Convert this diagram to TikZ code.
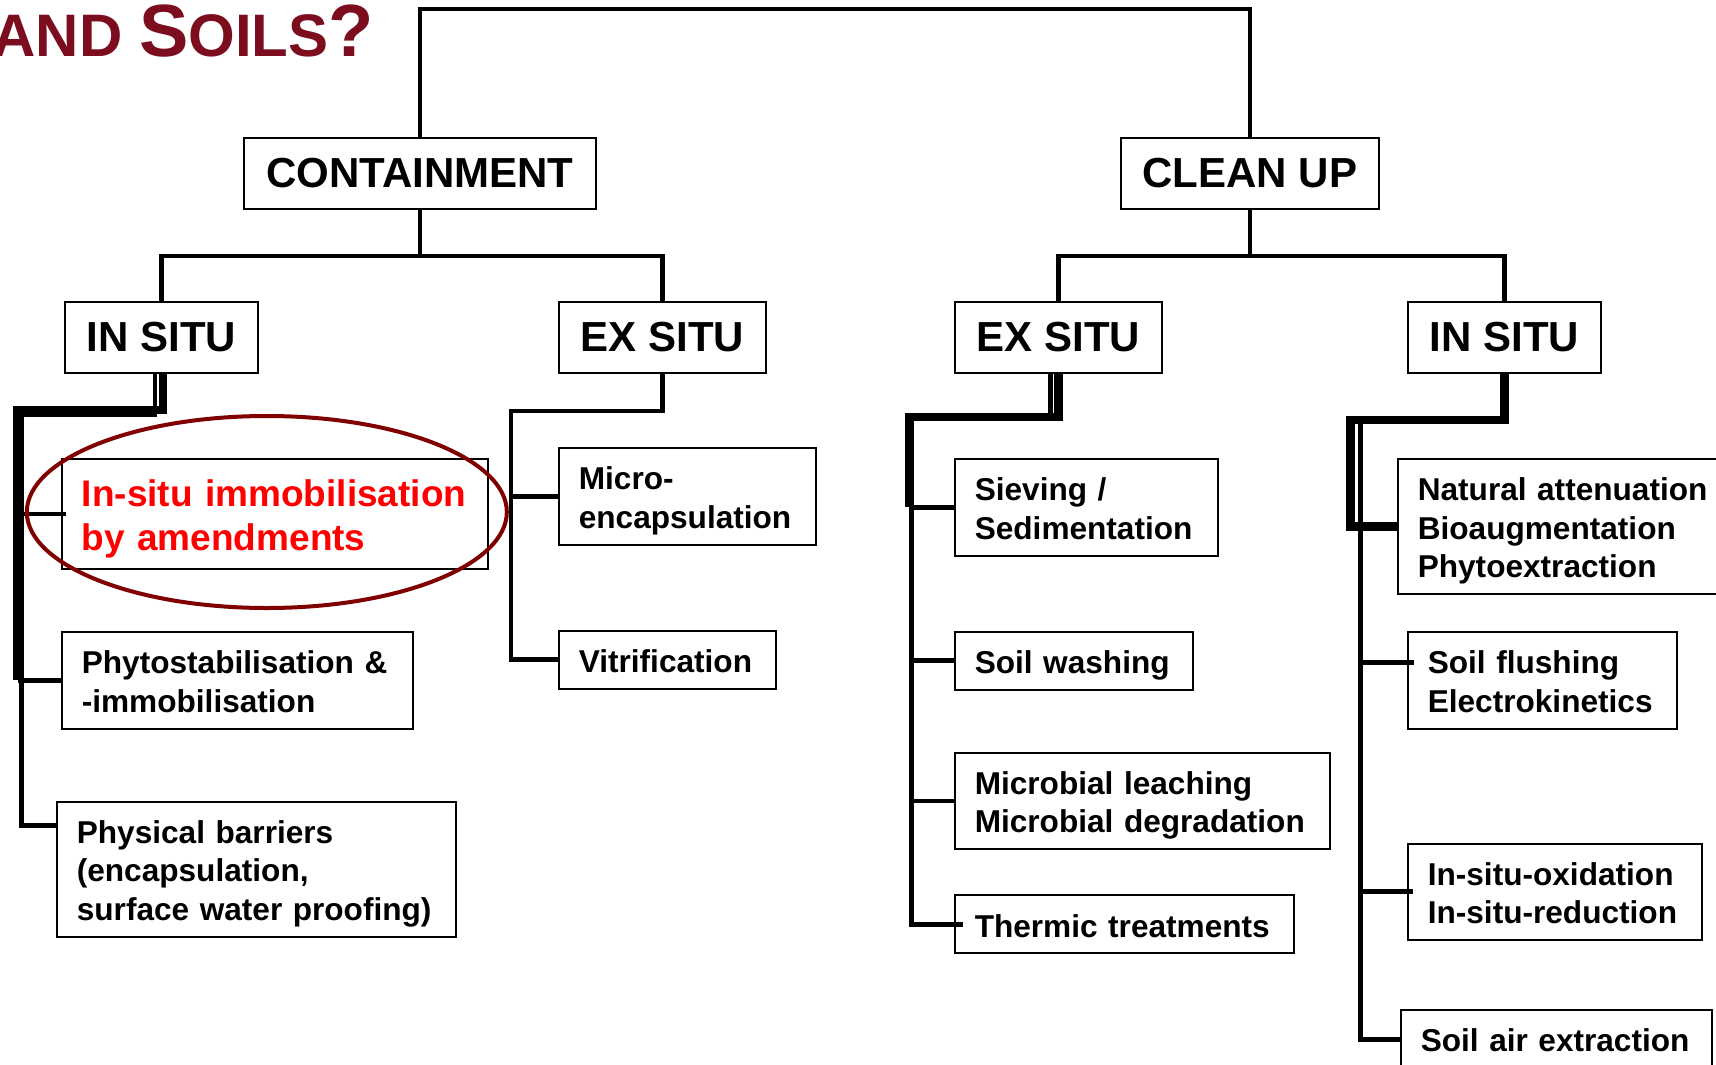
\documentclass[tikz,border=0pt]{standalone}
\usepackage{fontspec}
\setmainfont{Liberation Sans}
\usetikzlibrary{positioning}
\definecolor{titlered}{RGB}{123,13,30}
\definecolor{ringred}{RGB}{128,0,0}
\begin{document}
\begin{tikzpicture}[font=\bfseries,head/.style={draw,line width=1pt,font=\fontsize{21}{25}\selectfont\bfseries,inner xsep=11pt,inner ysep=0pt,minimum height=35.5pt},leaf/.style={draw,line width=1pt,font=\fontsize{15.8}{19.25}\selectfont\bfseries,align=left,inner xsep=10pt,inner ysep=4.875pt,execute at begin node=\raisebox{2.5pt}{\strut},execute at end node=\rule[-3.3pt]{0pt}{3.3pt}},wire/.style={line width=2.4pt},heavy/.style={line width=4.2pt},ring/.style={draw=ringred,line width=2pt}]
\useasboundingbox (0,0) rectangle (858pt,-532pt);
\node[text=titlered,anchor=base east,inner sep=0pt] (title) at (187pt,-28.5pt) {\fontsize{30}{32}\selectfont AND \fontsize{37}{40}\selectfont S\fontsize{30}{32}\selectfont OILS\fontsize{37}{40}\selectfont ?};
\node[head] (contain) at (210pt,-86.75pt) {CONTAINMENT};
\node[head,right=261.5pt of contain] (cleanup) {CLEAN UP};
\node[head,below=45.5pt of contain,xshift=-129.25pt] (ctinsitu) {IN SITU};
\node[head,below=45.5pt of contain,xshift=121.25pt] (ctexsitu) {EX SITU};
\node[head,below=45.5pt of cleanup,xshift=-95.75pt] (cuexsitu) {EX SITU};
\node[head,below=45.5pt of cleanup,xshift=127.25pt] (cuinsitu) {IN SITU};
\node[leaf,text width=193pt,text=red,font=\fontsize{18.5}{22}\selectfont\bfseries,minimum height=55pt,below=42pt of ctinsitu.south west,anchor=north west,xshift=-1.5pt] (immob) {In-situ immobilisation\\by amendments};
\node[leaf,text width=155.5pt,below=30.5pt of immob.south west,anchor=north west] (phyto) {Phytostabilisation \&\\-immobilisation};
\node[leaf,text width=179.5pt,below=35.5pt of phyto.south west,anchor=north west,xshift=-2.5pt] (physbar) {Physical barriers\\(encapsulation,\\surface water proofing)};
\node[leaf,text width=108.5pt,below=36.5pt of ctexsitu.south west,anchor=north west] (micro) {Micro-\\encapsulation};
\node[leaf,text width=88.5pt,below=42pt of micro.south west,anchor=north west] (vitrif) {Vitrification};
\node[leaf,text width=111.5pt,below=42pt of cuexsitu.south west,anchor=north west] (sieving) {Sieving /\\Sedimentation};
\node[leaf,text width=99pt,below=37pt of sieving.south west,anchor=north west] (soilwash) {Soil washing};
\node[leaf,text width=167.5pt,below=30.5pt of soilwash.south west,anchor=north west] (microbial) {Microbial leaching\\Microbial degradation};
\node[leaf,text width=149.5pt,below=22pt of microbial.south west,anchor=north west] (thermic) {Thermic treatments};
\node[leaf,text width=150pt,below=42pt of cuinsitu.south west,anchor=north west,xshift=-5pt] (natatt) {Natural attenuation\\Bioaugmentation\\Phytoextraction};
\node[leaf,text width=114.5pt,below=18pt of natatt.south west,anchor=north west,xshift=5pt] (soilflush) {Soil flushing\\Electrokinetics};
\node[leaf,text width=127pt,below=56.5pt of soilflush.south west,anchor=north west] (oxid) {In-situ-oxidation\\In-situ-reduction};
\node[leaf,text width=135.5pt,below=34pt of oxid.south west,anchor=north west,xshift=-3.5pt] (soilair) {Soil air extraction};
\coordinate (cthub) at ([yshift=-23pt]contain.south);
\coordinate (cuhub) at ([yshift=-23pt]cleanup.south);
\coordinate (ctknee) at ([shift={(-72pt,-18pt)}]ctinsitu.south);
\coordinate (cxknee) at ([shift={(-75.75pt,-18.5pt)}]ctexsitu.south);
\coordinate (ceknee) at ([shift={(-74.5pt,-21.5pt)}]cuexsitu.south);
\coordinate (ciknee) at ([shift={(-77pt,-23pt)}]cuinsitu.south);
\coordinate (cispine) at ([xshift=5pt]ciknee);
\coordinate (flushin) at ([shift={(3.5pt,9pt)}]soilflush.west);
\draw[wire] (contain.north) |- ([yshift=64pt]cleanup.north) -- (cleanup.north);
\draw[wire] (contain) -- (cthub);
\draw[wire] (ctinsitu.north) |- (cthub) -| (ctexsitu.north);
\draw[wire] (cleanup) -- (cuhub);
\draw[wire] (cuexsitu.north) |- (cuhub) -| (cuinsitu.north);
\draw[heavy] ([xshift=0.75pt]ctinsitu.south) |- (ctknee) -- (ctknee|-phyto.west);
\draw[wire] ([xshift=-3.25pt]ctinsitu.south) |- ([shift={(2pt,-2.5pt)}]ctknee) |- ([yshift=22pt]physbar.west);
\draw[wire] (ctknee|-immob.west) -- ([xshift=2.5pt]immob.west);
\draw[wire] (ctknee|-phyto.west) -- (phyto.west);
\draw[wire] (ctexsitu.south) |- (cxknee) |- (vitrif.west);
\draw[wire] (cxknee|-micro.west) -- (micro.west);
\draw[heavy] (cuexsitu.south) |- (ceknee) -- (ceknee|-sieving.west);
\draw[wire] ([xshift=-4pt]cuexsitu.south) |- ([xshift=1pt]ceknee) |- ([xshift=4.5pt]thermic.west);
\draw[wire] (ceknee|-sieving.west) -- (sieving.west);
\draw[wire] (ceknee|-soilwash.west) -- (soilwash.west);
\draw[wire] (ceknee|-microbial.west) -- (microbial.west);
\draw[heavy] (cuinsitu.south) |- (ciknee) |- (natatt.west);
\draw[wire] (cispine) |- (soilair.west);
\draw[wire] (cispine|-flushin) -- (flushin);
\draw[wire] (cispine|-oxid.west) -- ([xshift=3pt]oxid.west);
\draw[ring] ([xshift=-4pt,yshift=1pt]immob.center) ellipse [x radius=120pt,y radius=48pt];
\end{tikzpicture}
\end{document}
